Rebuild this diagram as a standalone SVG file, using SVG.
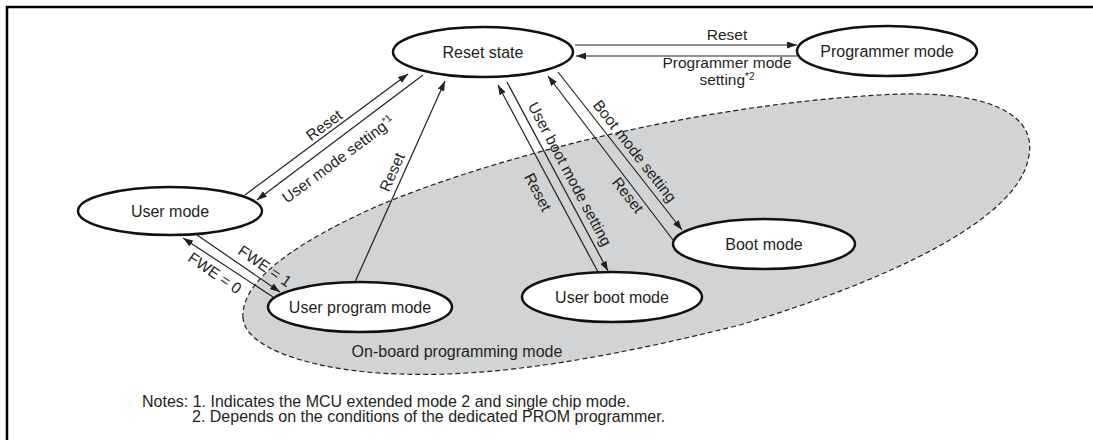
<svg xmlns="http://www.w3.org/2000/svg" width="1093" height="440" viewBox="0 0 1093 440">
<style>
.node{fill:#fff;stroke:#111;stroke-width:2.5}
.nl{font-family:"Liberation Sans",Arial,sans-serif;font-size:16px;fill:#231f20;text-anchor:middle}
.al{font-family:"Liberation Sans",Arial,sans-serif;font-size:15.5px;fill:#231f20;text-anchor:middle}
.note{font-family:"Liberation Sans",Arial,sans-serif;font-size:16px;fill:#231f20}
.c{fill:none;stroke:#231f20;stroke-width:1.2;marker-end:url(#ah)}
.sup{font-size:10px}
</style>
<defs>
<marker id="ah" markerUnits="userSpaceOnUse" markerWidth="10" markerHeight="7" refX="10" refY="3.5" orient="auto">
<path d="M0,0 L10,3.5 L0,7 Z" fill="#231f20"/>
</marker>
</defs>
<rect width="1093" height="440" fill="#fff"/>
<path d="M7,440 V7 H1093" fill="none" stroke="#000" stroke-width="2.5"/>
<g id="onboard-region">
<path d="M243,318 C240,280 300,240 380,205 C500,155 700,105 880,95 C990,88 1040,115 1028,160 C1015,220 890,280 740,325 C620,355 500,378 400,374 C320,372 245,350 243,318 Z" fill="#d1d3d4" stroke="#231f20" stroke-width="1.2" stroke-dasharray="5 3"/>
<text class="nl" x="457" y="357">On-board programming mode</text>
</g>
<g id="connectors">
<line class="c" x1="575" y1="45" x2="797" y2="45"/>
<line class="c" x1="797" y1="56" x2="576" y2="56"/>
<text class="al" x="727" y="40">Reset</text>
<text class="al" x="727" y="68">Programmer mode</text>
<text class="al" x="727" y="85">setting<tspan class="sup" dy="-5">*2</tspan></text>
<line class="c" x1="245" y1="195" x2="408" y2="74"/>
<line class="c" x1="423" y1="75" x2="257" y2="200"/>
<text class="al" transform="translate(324,125) rotate(-36.6)" y="5.5">Reset</text>
<text class="al" transform="translate(338,159) rotate(-36.6)" y="5.5">User mode setting<tspan class="sup" dy="-5">*1</tspan></text>
<line class="c" x1="355" y1="282" x2="445" y2="81"/>
<text class="al" transform="translate(392,172) rotate(-66)" y="5.5">Reset</text>
<line class="c" x1="598" y1="272" x2="498" y2="85"/>
<line class="c" x1="507" y1="82" x2="608" y2="271"/>
<text class="al" transform="translate(538,192) rotate(62)" y="5.5">Reset</text>
<text class="al" transform="translate(570,174) rotate(62)" y="5.5">User boot mode setting</text>
<line class="c" x1="673" y1="240" x2="548" y2="76"/>
<line class="c" x1="558" y1="72" x2="682" y2="230"/>
<text class="al" transform="translate(628,195) rotate(52)" y="5.5">Reset</text>
<text class="al" transform="translate(635,151) rotate(52)" y="5.5">Boot mode setting</text>
<line class="c" x1="197" y1="235" x2="280" y2="292"/>
<line class="c" x1="273" y1="297" x2="183" y2="238"/>
<text class="al" transform="translate(265,266) rotate(34.5)" y="5.5">FWE = 1</text>
<text class="al" transform="translate(215,273) rotate(34.5)" y="5.5">FWE = 0</text>
</g>
<g id="reset-state">
<ellipse class="node" cx="483" cy="52" rx="90" ry="25"/>
<text class="nl" x="483" y="58">Reset state</text>
</g>
<g id="programmer-mode">
<ellipse class="node" cx="887" cy="51" rx="90" ry="25"/>
<text class="nl" x="887" y="57">Programmer mode</text>
</g>
<g id="user-mode">
<ellipse class="node" cx="170" cy="211" rx="92" ry="24"/>
<text class="nl" x="170" y="217">User mode</text>
</g>
<g id="user-program-mode">
<ellipse class="node" cx="360" cy="307" rx="92" ry="25"/>
<text class="nl" x="360" y="313">User program mode</text>
</g>
<g id="user-boot-mode">
<ellipse class="node" cx="612" cy="297" rx="90" ry="25"/>
<text class="nl" x="612" y="303">User boot mode</text>
</g>
<g id="boot-mode">
<ellipse class="node" cx="764" cy="244" rx="91" ry="25"/>
<text class="nl" x="764" y="250">Boot mode</text>
</g>
<g id="notes">
<text class="note" x="142" y="407">Notes: 1. Indicates the MCU extended mode 2 and single chip mode.</text>
<text class="note" x="192" y="422">2. Depends on the conditions of the dedicated PROM programmer.</text>
</g>
</svg>
